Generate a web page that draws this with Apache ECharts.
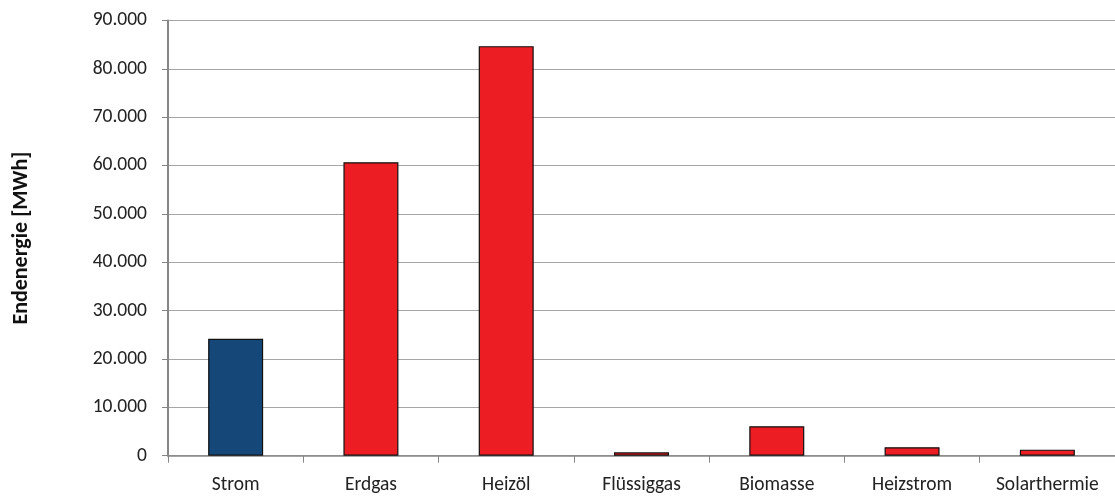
<!DOCTYPE html>
<html>
<head>
<meta charset="utf-8">
<script src="https://cdn.jsdelivr.net/npm/echarts@6/dist/echarts.min.js"></script>
<style>
  html, body { margin: 0; padding: 0; background: #ffffff; }
  #chart { width: 1115px; height: 497px; }
</style>
</head>
<body>
<div id="chart"></div>
<script>
// Endenergie nach Energieträger
const categories = ['Strom', 'Erdgas', 'Heizöl', 'Flüssiggas', 'Biomasse', 'Heizstrom', 'Solarthermie'];
const values = [24200, 60700, 84700, 700, 6100, 1750, 1250];
const barColors = ['#154878', '#ED1D24', '#ED1D24', '#ED1D24', '#ED1D24', '#ED1D24', '#ED1D24'];
const yAxisTitle = 'Endenergie [MWh]';

const fontFamily = 'Carlito, Lato, "Open Sans", sans-serif';

function formatThousands(v) {
  return String(v).replace(/\B(?=(\d{3})+(?!\d))/g, '.');
}

const chart = echarts.init(document.getElementById('chart'), null, { renderer: 'canvas' });
chart.setOption({
  animation: false,
  backgroundColor: '#ffffff',
  grid: { left: 168, right: -5, top: 20.5, bottom: 41.3, containLabel: false },
  xAxis: {
    type: 'category',
    data: categories,
    axisLine: { show: true, lineStyle: { color: '#868686', width: 1.5 } },
    axisTick: { show: true, interval: 0, length: 7, lineStyle: { color: '#868686', width: 1 } },
    axisLabel: { interval: 0, hideOverlap: false, color: '#222222', fontSize: 19.5, fontFamily: fontFamily, margin: 19 },
    splitLine: { show: false }
  },
  yAxis: {
    type: 'value',
    min: 0,
    max: 90000,
    interval: 10000,
    name: yAxisTitle,
    nameLocation: 'middle',
    nameGap: 136,
    nameRotate: 90,
    nameTextStyle: { color: '#111111', fontSize: 22, fontWeight: 'bold', fontFamily: fontFamily },
    axisLine: { show: true, lineStyle: { color: '#868686', width: 2 } },
    axisTick: { show: true, length: 6, lineStyle: { color: '#868686', width: 1 } },
    axisLabel: {
      color: '#222222', fontSize: 19.5, fontFamily: fontFamily, margin: 21,
      formatter: formatThousands
    },
    splitLine: { show: true, lineStyle: { color: '#a6a6a6', width: 1.2 } }
  },
  series: [{
    type: 'bar',
    data: values.map((v, i) => ({
      value: v,
      itemStyle: { color: barColors[i] }
    })),
    barWidth: 55,
    itemStyle: { borderColor: '#111111', borderWidth: 1.2 }
  }]
});
</script>
</body>
</html>
